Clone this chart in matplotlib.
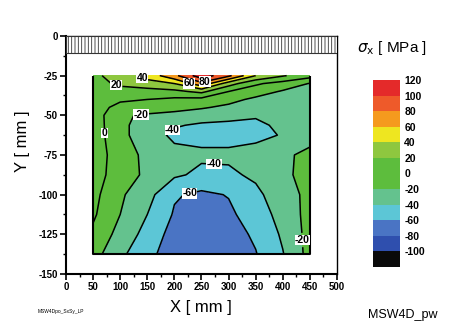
import numpy as np
import matplotlib
matplotlib.use('Agg')
import matplotlib.pyplot as plt
from matplotlib.patches import Rectangle

plt.rcParams['font.family'] = ['Liberation Sans', 'DejaVu Sans']
plt.rcParams['axes.unicode_minus'] = False
plt.rcParams['hatch.linewidth'] = 0.6

# measurement grid (mm) and residual stress sigma_x (MPa)
x_pos = [50, 100, 150, 200, 250, 300, 350, 400, 450]
y_pos = [-25, -30, -35, -40, -45, -50, -56.25, -62.5, -75, -87.5, -100, -112.5, -125, -137.5]
sigma_x = [
    [15, 30, 47, 75, 112, 85, 40, 22, 8],
    [14, 23, 33, 40, 74, 29, 3, -8, -21],
    [13, 14, 11, 15, 25, 0, -11, -22, -25],
    [12, 4, 0, -4, -6, -14, -24, -27, -27],
    [12, -8, -11, -13, -18, -24, -30, -30, -28],
    [12, -18, -22, -26, -30, -37, -38, -32, -29],
    [12, -17, -26, -38, -43, -42, -44, -36, -28],
    [12, -16, -28, -45, -45, -45, -44, -39, -26],
    [11, -10, -25, -33, -37, -37, -34, -23, -16],
    [9, -10, -24, -37, -44, -43, -37, -23, -15],
    [6, -17, -33, -58, -64, -59, -44, -30, -14],
    [3, -20, -40, -62, -72, -64, -50, -33, -13],
    [-4, -27, -47, -68, -75, -68, -57, -37, -13],
    [-12, -36, -53, -73, -76, -72, -61, -41, -13],
]

levels = [-120, -100, -80, -60, -40, -20, 0, 20, 40, 60, 80, 100, 120]
fill_colors = ['#0a0a0a', '#2f4fae', '#4a74c4', '#5cc6d6', '#64c28e', '#5dbd3d',
               '#5dbd3d', '#8ec73f', '#eee620', '#f59a1e', '#ee5a2a', '#e42a2a']
cbar_ticks = [-100, -80, -60, -40, -20, 0, 20, 40, 60, 80, 100, 120]

# where each contour level gets its label
label_spots = {
    80: [(257, -30)],
    60: [(226, -31)],
    40: [(140, -27)],
    20: [(94, -30)],
    0: [(74, -61)],
    -20: [(138, -49), (442, -128.5)],
    -40: [(193, -58), (273, -82.5)],
    -60: [(228, -99)],
}

X, Y = np.meshgrid(x_pos, y_pos)
Z = np.array(sigma_x, dtype=float)

fig = plt.figure(figsize=(4.73, 3.30), dpi=100)
ax = fig.add_axes([0.1395, 0.1697, 0.573, 0.7213])

cf = ax.contourf(X, Y, Z, levels=levels, colors=fill_colors)
for lev in levels[1:-1]:
    if Z.min() >= lev or Z.max() <= lev:
        continue
    cs = ax.contour(X, Y, Z, levels=[lev], colors='k', linewidths=1.1,
                    linestyles='solid')
    if lev in label_spots:
        ax.clabel(cs, fmt='%d', manual=label_spots[lev], inline=True,
                  fontsize=7.5, inline_spacing=2)
        for t in cs.labelTexts:
            t.set_rotation(0)
            t.set_fontweight('bold')
            t.set_bbox(dict(facecolor='white', edgecolor='none', pad=0.2))

# border of the measured area
x0, x1 = x_pos[0], x_pos[-1]
y0, y1 = y_pos[0], y_pos[-1]
ax.plot([x0, x0, x1, x1], [y0, y1, y1, y0], color='k', lw=1.5, solid_capstyle='butt')

# clamped edge (hatched strip along the top)
hatch = Rectangle((0, -11), 500, 11, facecolor='white', edgecolor='#333333',
                  hatch='|||||', lw=0.8, zorder=3)
ax.add_patch(hatch)

ax.set_xlim(0, 500)
ax.set_ylim(-150, 0)
ax.set_xticks(np.arange(0, 501, 50))
ax.set_xticks(np.arange(0, 501, 25), minor=True)
ax.set_yticks(np.arange(-150, 1, 25))
ax.set_yticks(np.arange(-150, 1, 12.5), minor=True)
ax.tick_params(which='major', direction='out', length=4, width=1.2, labelsize=7, pad=2)
ax.tick_params(which='minor', direction='out', length=2, width=1.0)
for lab in ax.get_xticklabels() + ax.get_yticklabels():
    lab.set_fontweight('bold')
ax.spines['left'].set_linewidth(1.5)
ax.spines['bottom'].set_linewidth(1.5)
ax.spines['right'].set_linewidth(1.0)
ax.spines['top'].set_linewidth(1.0)
fig.text(0.425, 0.068, 'X [ mm ]', fontsize=12, ha='center', va='center')
fig.text(0.047, 0.573, 'Y [ mm ]', fontsize=12, ha='center', va='center', rotation=90)

# stacked colour scale
cax = fig.add_axes([0.7886, 0.1909, 0.057, 0.5667])
cb = fig.colorbar(cf, cax=cax, ticks=cbar_ticks)
cb.outline.set_visible(False)
cb.ax.tick_params(length=0, labelsize=7.5, pad=3)
for lab in cb.ax.get_yticklabels():
    lab.set_fontweight('bold')
fig.text(0.755, 0.842, r'$\sigma_{\mathrm{x}}$ [ MPa ]', fontsize=11)

fig.text(0.08, 0.05, 'MSW4Dpo_SxSy_LP', fontsize=3.5)
fig.text(0.778, 0.035, 'MSW4D_pw', fontsize=9)

fig.savefig('out.png', dpi=100)
